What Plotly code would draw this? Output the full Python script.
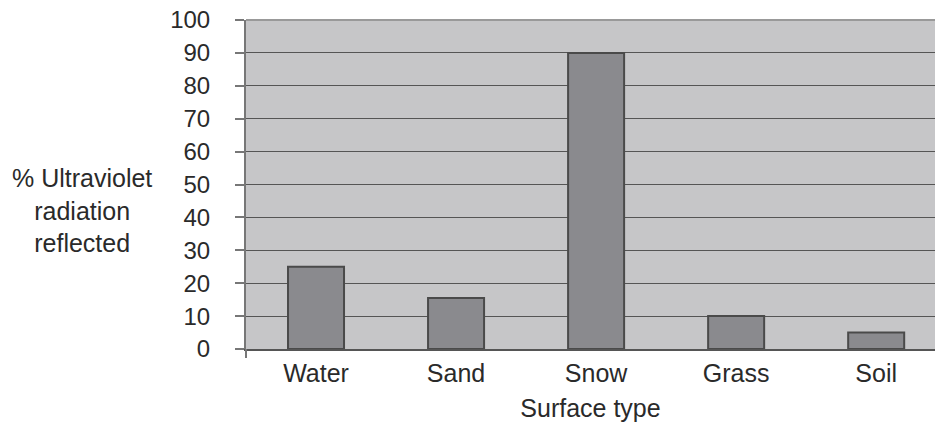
import plotly.graph_objects as go

categories = ["Water", "Sand", "Snow", "Grass", "Soil"]
values = [25, 15.5, 90, 10, 5]
y_ticks = [0, 10, 20, 30, 40, 50, 60, 70, 80, 90, 100]

FONT = "Liberation Sans, Arial, sans-serif"
TXT = "#2a2a2a"

# plot area at x 246..935, y 19.5..349 in the 935x425 viewport
PL, PT, PB = 246, 19.5, 349
W, H = 935, 425
fig = go.Figure(go.Bar(
    x=categories, y=values, width=0.4,
    marker=dict(color="#8a8a8e", line=dict(color="#4a4a4a", width=2)),
    hoverinfo="skip",
))

fig.update_layout(
    width=W, height=H,
    margin=dict(l=PL, r=0, t=PT, b=H - PB, pad=0, autoexpand=False),
    plot_bgcolor="#c6c6c8", paper_bgcolor="white",
    showlegend=False,
    font=dict(family=FONT, size=25, color=TXT),
    xaxis=dict(
        range=[-0.5, 4.42], showgrid=False, automargin=False,
        showline=True, linecolor="#555555", linewidth=2,
        ticks="", ticklabelstandoff=1,
        tickfont=dict(size=25, color=TXT),
        title=dict(text="Surface type", font=dict(size=25, color=TXT), standoff=13),
    ),
    yaxis=dict(
        range=[0, 100], tickvals=y_ticks, automargin=False,
        showgrid=True, gridcolor="#555555", gridwidth=1.3,
        showline=True, linecolor="#777777", linewidth=2,
        ticks="outside", ticklen=9, tickcolor="#777777", tickwidth=1.5,
        ticklabelstandoff=20, ticklabeloverflow="allow",
        tickfont=dict(size=24, color=TXT),
        zeroline=False,
    ),
    shapes=[
        dict(type="line", xref="paper", yref="paper", x0=0, x1=1, y0=1, y1=1,
             line=dict(color="#999999", width=2)),
        dict(type="line", xref="paper", yref="paper", x0=0, x1=0, y0=0, y1=-9 / (PB - PT),
             line=dict(color="#777777", width=2)),
    ],
    annotations=[dict(text="% Ultraviolet<br>radiation<br>reflected", xref="paper", yref="paper",
                      x=(82 - PL) / (935 - PL), y=(PB - 210) / (PB - PT),
                      xanchor="center", yanchor="middle",
                      showarrow=False, align="center",
                      font=dict(size=25, color=TXT, family=FONT))],
)

fig.write_html(
    "out.html",
    config={"displayModeBar": False},
    post_script="document.body.style.margin='0';document.body.style.overflow='hidden';",
)
